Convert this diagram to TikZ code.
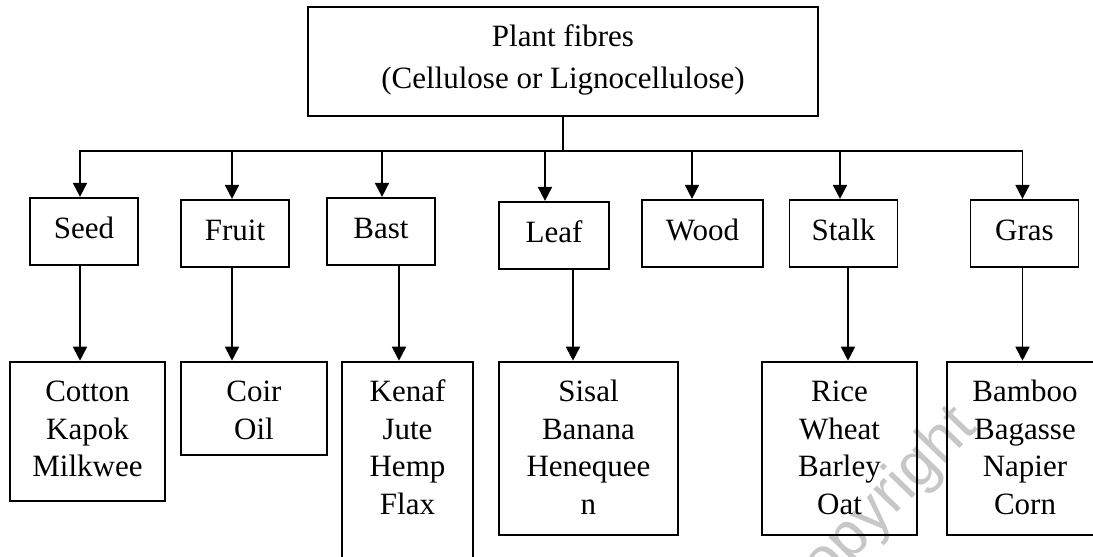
\documentclass[tikz,border=0pt]{standalone}
\usepackage{fontspec}
\setmainfont{Liberation Serif}
\setsansfont{Liberation Sans}
\usetikzlibrary{positioning,arrows.meta}

\begin{document}
\begin{tikzpicture}[>={Triangle[width=7pt,length=7pt]}, line width=0.9pt,
    font=\fontsize{15.5pt}{18.75pt}\selectfont,
    main/.style = {draw, rectangle, inner ysep=2pt, text height=38.65pt, text depth=11.85pt, minimum width=255pt, align=center},
    kind/.style = {draw, rectangle, inner ysep=2pt, text height=18.5pt, text depth=11pt, minimum width=54pt},
    fibre/.style = {draw, rectangle, inner ysep=2pt, text height=74.25pt, text depth=8.25pt, align=center}]

            \useasboundingbox (-281.5pt,-247.75pt) rectangle (265pt,30.75pt);
            \clip (-281.5pt,-247.75pt) rectangle (265pt,30.75pt);

            \node[black!22, font=\fontsize{31pt}{33pt}\sffamily, rotate=46] (MARK) at (156pt,-226pt) {Copyright};

            \node[main, font=\fontsize{15.5pt}{20.8pt}\selectfont] (PLANT) at (0,0) {Plant fibres\\(Cellulose or Lignocellulose)};

            %kinds of fibre
            \coordinate (BUS) at ([yshift=-17pt]PLANT.south);
            \node[kind] (SEED) [below=40pt of PLANT, xshift=-239.5pt] {Seed};
            \node[kind] (FRUIT) [below=41pt of PLANT, xshift=-164pt] {Fruit};
            \node[kind] (BAST) [below=40pt of PLANT, xshift=-91pt] {Bast};
            \node[kind, minimum width=55pt] (LEAF) [below=42pt of PLANT, xshift=-4.5pt] {Leaf};
            \node[kind, minimum width=60.5pt] (WOOD) [below=41pt of PLANT, xshift=69.75pt] {Wood};
            \node[kind] (STALK) [below=41pt of PLANT, xshift=140.25pt] {Stalk};
            \node[kind] (GRAS) [below=41pt of PLANT, xshift=230.75pt] {Gras};
            \draw (PLANT) -- (BUS);
            \draw[->] (BUS) -| ([xshift=-2pt]SEED.north);
            \draw[->] (BUS) -| ([xshift=-1.5pt]FRUIT.north);
            \draw[->] (BUS) -| ([xshift=0.5pt]BAST.north);
            \draw[->] (BUS) -| ([xshift=-4.5pt]LEAF.north);
            \draw[->] (BUS) -| ([xshift=-5.25pt]WOOD.north);
            \draw[->] (BUS) -| ([xshift=-1.75pt]STALK.north);
            \draw[->] (BUS) -| ([xshift=-1pt]GRAS.north);

            %examples below the kinds
            \node[fibre, minimum width=77.5pt, text height=55.5pt, text depth=10pt] (COTTON) [below=47.5pt of SEED, xshift=1.75pt] {Cotton\\Kapok\\Milkwee};
            \node[fibre, minimum width=73pt, text height=36.75pt, text depth=5.75pt] (COIR) [below=46.5pt of FRUIT, xshift=9.5pt] {Coir\\Oil};
            \node[fibre, minimum width=65.5pt, text depth=19.75pt] (KENAF) [below=47.5pt of BAST, xshift=13.25pt] {Kenaf\\Jute\\Hemp\\Flax};
            \node[fibre, minimum width=89.5pt] (SISAL) [below=45.5pt of LEAF, xshift=17.25pt] {Sisal\\Banana\\Henequee\\n};
            \node[fibre, minimum width=77.5pt] (RICE) [below=46.5pt of STALK, xshift=-2pt] {Rice\\Wheat\\Barley\\Oat};
            \node[fibre, minimum width=78pt] (BAMBOO) [below=46.5pt of GRAS, xshift=0.25pt] {Bamboo\\Bagasse\\Napier\\Corn};
            \draw[->] ([xshift=-2pt]SEED.south) -- ([xshift=-2pt]SEED.south |- COTTON.north);
            \draw[->] ([xshift=-1.5pt]FRUIT.south) -- ([xshift=-1.5pt]FRUIT.south |- COIR.north);
            \draw[->] ([xshift=9pt]BAST.south) -- ([xshift=9pt]BAST.south |- KENAF.north);
            \draw[->] ([xshift=9.5pt]LEAF.south) -- ([xshift=9.5pt]LEAF.south |- SISAL.north);
            \draw[->] ([xshift=2.25pt]STALK.south) -- ([xshift=2.25pt]STALK.south |- RICE.north);
            \draw[->] ([xshift=-1pt]GRAS.south) -- ([xshift=-1pt]GRAS.south |- BAMBOO.north);
\end{tikzpicture}
\end{document}
